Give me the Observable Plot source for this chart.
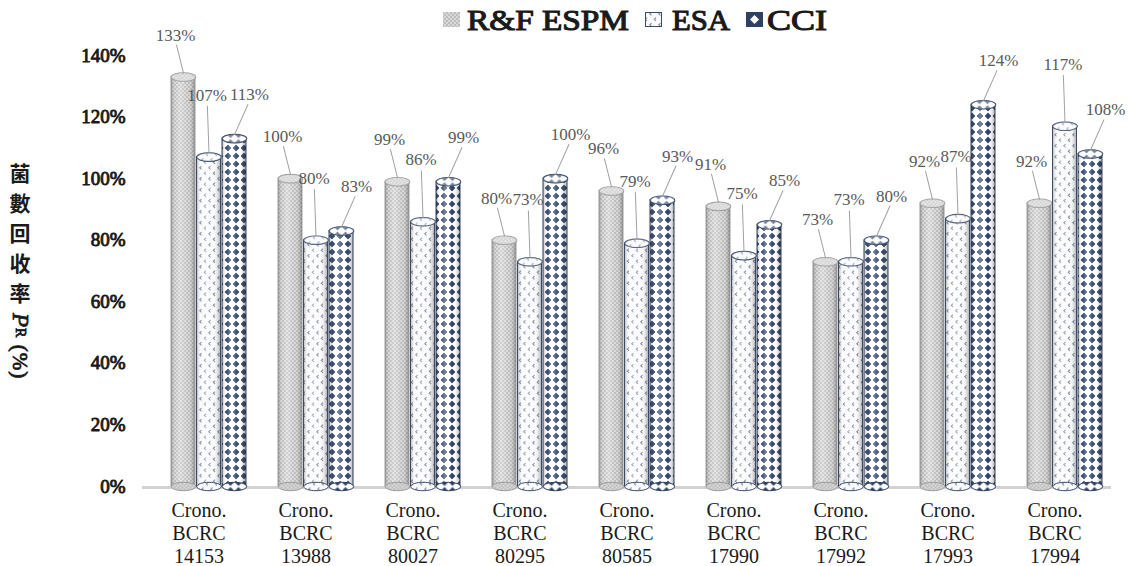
<!DOCTYPE html>
<html>
<head>
<meta charset="utf-8">
<script src="https://cdn.jsdelivr.net/npm/d3@7"></script>
<script src="https://cdn.jsdelivr.net/npm/@observablehq/plot@0.6"></script>
<style>
  html, body { margin: 0; padding: 0; background: #fff; }
  #wrap { position: relative; width: 1133px; height: 566px; overflow: hidden; font-family: "Liberation Serif", serif; }
  #legend { position: absolute; top: 0; left: 0; }
  #ytitle { position: absolute; left: 9px; top: 163px; writing-mode: vertical-rl; font: bold 21px "Noto Sans CJK TC", sans-serif; letter-spacing: 9px; color: #1a1a1a; line-height: 1; }
  #ytitle .lat { font-family: "Liberation Serif", serif; font-weight: normal; letter-spacing: 1px; -webkit-text-stroke: 0.8px #1a1a1a; }
</style>
</head>
<body>
<svg width="0" height="0" style="position:absolute">
  <defs>
    <pattern id="patRF" width="4" height="4" patternUnits="userSpaceOnUse">
      <rect width="4" height="4" fill="#bdbdbd"/>
      <circle cx="1" cy="1" r="0.9" fill="#e6e6e6"/>
      <circle cx="3" cy="3" r="0.9" fill="#e6e6e6"/>
    </pattern>
    <pattern id="patESA" width="9" height="11" patternUnits="userSpaceOnUse">
      <rect width="9" height="11" fill="#fbfbfd"/>
      <path d="M3.5 1.2 L1.8 2.8 L3.5 4.4" fill="none" stroke="#7f8aa0" stroke-width="1.1"/>
      <path d="M8 6.7 L6.3 8.3 L8 9.9" fill="none" stroke="#7f8aa0" stroke-width="1.1"/>
    </pattern>
    <pattern id="patCCI" width="8" height="8" patternUnits="userSpaceOnUse">
      <rect width="8" height="8" fill="#ffffff"/>
      <path d="M4 0.9 L7 4 L4 7.1 L1 4 Z" fill="#2f4163" stroke="#2f4163" stroke-width="0.8" stroke-linejoin="round"/>
    </pattern>
    <linearGradient id="cyl" x1="0" x2="1" y1="0" y2="0">
      <stop offset="0" stop-color="#000" stop-opacity="0.28"/>
      <stop offset="0.18" stop-color="#fff" stop-opacity="0.05"/>
      <stop offset="0.38" stop-color="#fff" stop-opacity="0.35"/>
      <stop offset="0.7" stop-color="#fff" stop-opacity="0.0"/>
      <stop offset="1" stop-color="#000" stop-opacity="0.32"/>
    </linearGradient>
  </defs>
</svg>
<div id="wrap">
  <svg id="legend" width="1133" height="40" font-family="Liberation Serif" font-size="30" fill="#1a1a1a" stroke="#1a1a1a" stroke-width="1.1">
    <rect x="443" y="12" width="17" height="15" fill="url(#patRF)" stroke="none"/>
    <text x="467" y="30" textLength="162" lengthAdjust="spacingAndGlyphs">R&amp;F ESPM</text>
    <rect x="645.5" y="12.5" width="16" height="14" fill="url(#patESA)" stroke="#3a4a66" stroke-width="1"/>
    <text x="672" y="30" textLength="58" lengthAdjust="spacingAndGlyphs">ESA</text>
    <rect x="746.5" y="12.5" width="16" height="14" fill="#2f4163" stroke="#2f4163" stroke-width="1"/>
    <path d="M754.5 15 L759 19.5 L754.5 24 L750 19.5 Z" fill="#fff" stroke="none"/>
    <text x="767" y="30" textLength="60" lengthAdjust="spacingAndGlyphs">CCI</text>
  </svg>
  <div id="ytitle">菌數回收率<span class="lat"><i style="font-size:23px">P</i><span style="font-size:14px">R</span> (%)</span></div>
</div>
<script>
const categories = ["Crono. BCRC 14153", "Crono. BCRC 13988", "Crono. BCRC 80027", "Crono. BCRC 80295", "Crono. BCRC 80585", "Crono. BCRC 17990", "Crono. BCRC 17992", "Crono. BCRC 17993", "Crono. BCRC 17994"];
const seriesNames = ["R&F ESPM", "ESA", "CCI"];
const rfEspm = [1.33, 1.00, 0.99, 0.80, 0.96, 0.91, 0.73, 0.92, 0.92];
const esa = [1.07, 0.80, 0.86, 0.73, 0.79, 0.75, 0.73, 0.87, 1.17];
const cci = [1.13, 0.83, 0.99, 1.00, 0.93, 0.85, 0.80, 1.24, 1.08];
const yTicks = [0, 0.2, 0.4, 0.6, 0.8, 1.0, 1.2, 1.4];

const rows = (vals, s) => vals.map((v, i) => ({category: categories[i], series: s, value: v}));
const dRF = rows(rfEspm, seriesNames[0]);
const dESA = rows(esa, seriesNames[1]);
const dCCI = rows(cci, seriesNames[2]);

const ellipse = {
  draw(ctx) {
    const rx = 12.2, ry = 4.2, k = 0.5523;
    ctx.moveTo(rx, 0);
    ctx.bezierCurveTo(rx, ry * k, rx * k, ry, 0, ry);
    ctx.bezierCurveTo(-rx * k, ry, -rx, ry * k, -rx, 0);
    ctx.bezierCurveTo(-rx, -ry * k, -rx * k, -ry, 0, -ry);
    ctx.bezierCurveTo(rx * k, -ry, rx, -ry * k, rx, 0);
    ctx.closePath();
  }
};
const leader = { draw(ctx, l) { ctx.moveTo(0, 0); ctx.lineTo(0, -l); } };

const pct = d3.format(".0%");
const off = 25.5;
const cfg = [
  {data: dRF, fill: "url(#patRF)", stroke: "#9a9a9a", inL: 0, inR: 51, dx: -off, ldx: -8, ldy: -42, len: 29, rot: -14},
  {data: dESA, fill: "url(#patESA)", stroke: "#3a4a66", inL: 25.5, inR: 25.5, dx: 0, ldx: -2, ldy: -62, len: 47, rot: -2},
  {data: dCCI, fill: "url(#patCCI)", stroke: "#2f3f5e", inL: 51, inR: 0, dx: off, ldx: 15, ldy: -44, len: 33, rot: 24}
];

const marks = [
  Plot.ruleY([0], {stroke: "#d2d2d2", strokeWidth: 3, dy: 1, insetLeft: -12, insetRight: 8})
];
for (const c of cfg) {
  marks.push(Plot.barY(c.data, {x: "category", y: "value", fill: c.fill, insetLeft: c.inL, insetRight: c.inR}));
  marks.push(Plot.barY(c.data, {x: "category", y: "value", fill: "url(#cyl)", stroke: c.stroke, strokeWidth: 1, insetLeft: c.inL, insetRight: c.inR}));
  marks.push(Plot.dot(c.data, {x: "category", y: () => 0, dx: c.dx, symbol: ellipse, r: 5, fill: c.fill, stroke: c.stroke, strokeWidth: 1}));
}
for (const c of cfg) {
  marks.push(Plot.dot(c.data, {x: "category", y: "value", dx: c.dx, symbol: ellipse, r: 5, fill: c.fill, stroke: c.stroke, strokeWidth: 1.2}));
  marks.push(Plot.dot(c.data, {x: "category", y: "value", dx: c.dx, symbol: ellipse, r: 5, fill: "#fff", fillOpacity: 0.35, stroke: "none"}));
  marks.push(Plot.vector(c.data, {x: "category", y: "value", dx: c.dx, dy: -4, length: c.len, rotate: c.rot, anchor: "start", shape: leader, stroke: "#a0a0a0", strokeWidth: 1}));
  marks.push(Plot.text(c.data, {x: "category", y: "value", text: d => pct(d.value), dx: c.dx + c.ldx, dy: c.ldy, fontSize: 17, fill: "#595959"}));
}

marks.push(Plot.axisY({ticks: yTicks, tickFormat: pct, tickSize: 0, tickPadding: 29, fontSize: 19, fontWeight: "normal", fill: "#1a1a1a", textStroke: "#1a1a1a", textStrokeWidth: 0.9, label: null}));
marks.push(Plot.axisX({tickSize: 0, tickPadding: 14, fontSize: 20, lineHeight: 1.15, dx: -10, fill: "#1a1a1a", tickFormat: d => d.replace(/ /g, "\n"), label: null}));

const chart = Plot.plot({
  width: 1133,
  height: 566,
  marginTop: 55,
  marginBottom: 80,
  marginLeft: 154,
  marginRight: 14,
  style: {fontFamily: "Liberation Serif", background: "transparent", overflow: "visible"},
  x: {type: "band", domain: categories, paddingInner: 0.3, paddingOuter: 0.15, align: 0.5},
  y: {domain: [0, 1.4]},
  marks
});
chart.style.position = "absolute";
chart.style.left = "0";
chart.style.top = "0";
document.getElementById("wrap").prepend(chart);
</script>
</body>
</html>
